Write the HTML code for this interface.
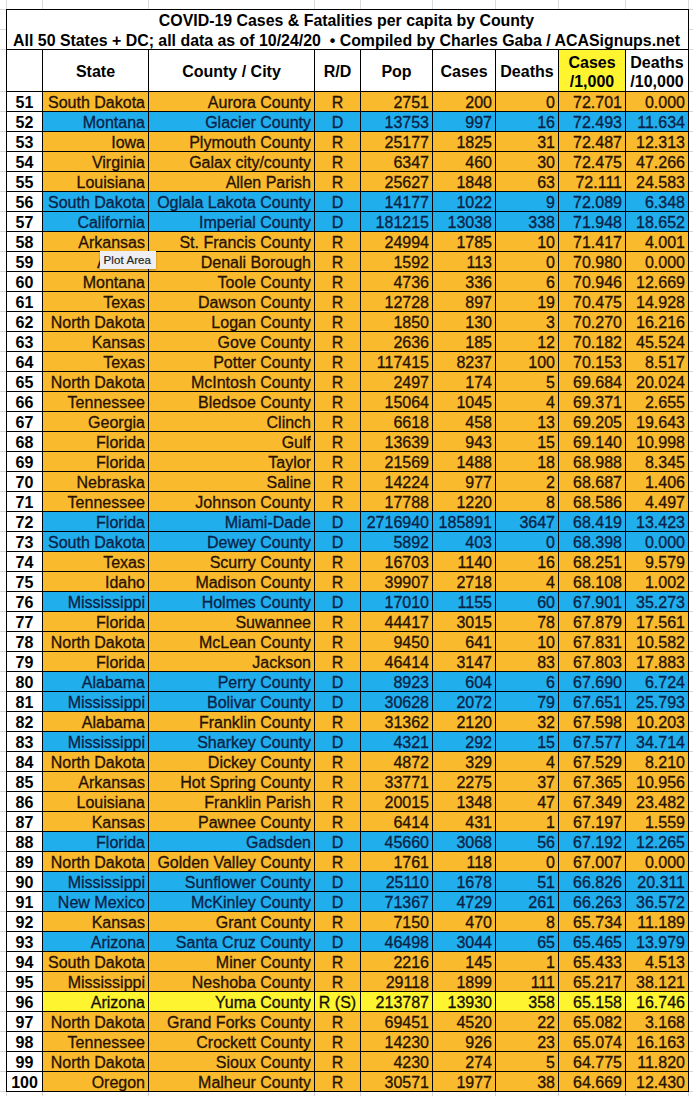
<!DOCTYPE html>
<html><head><meta charset="utf-8"><style>
html,body{margin:0;padding:0;background:#fff;width:693px;height:1096px;overflow:hidden}
body{position:relative;font-family:"Liberation Sans",sans-serif;color:#000}
.a{position:absolute}
.h{position:absolute;height:1px;background:#000}
.v{position:absolute;width:1px;background:#000}
.g{position:absolute;background:#d9d9d9}
.c{position:absolute;height:19px;line-height:19px;font-size:16px;white-space:nowrap;overflow:hidden;-webkit-text-stroke:0.3px currentColor}
.r{text-align:right}
.m{text-align:center}
.n{font-weight:bold;text-align:center;-webkit-text-stroke:0}
.o{background:#FABA2D}.b{background:#20AEEC}.y{background:#FEF530}
.to{color:#261200}.tb{color:#0a2248}.ty{color:#141000}
.t{position:absolute;left:6px;width:681px;text-align:center;font-weight:bold;font-size:15.9px;white-space:pre;line-height:20px}
.hd{position:absolute;font-weight:bold;font-size:16px;text-align:center;line-height:19px}
</style></head><body>

<div class="g" style="left:6px;top:0;width:1px;height:9px"></div>
<div class="g" style="left:6px;top:1092px;width:1px;height:4px"></div>
<div class="g" style="left:42px;top:0;width:1px;height:9px"></div>
<div class="g" style="left:42px;top:1092px;width:1px;height:4px"></div>
<div class="g" style="left:148px;top:0;width:1px;height:9px"></div>
<div class="g" style="left:148px;top:1092px;width:1px;height:4px"></div>
<div class="g" style="left:314px;top:0;width:1px;height:9px"></div>
<div class="g" style="left:314px;top:1092px;width:1px;height:4px"></div>
<div class="g" style="left:360px;top:0;width:1px;height:9px"></div>
<div class="g" style="left:360px;top:1092px;width:1px;height:4px"></div>
<div class="g" style="left:432px;top:0;width:1px;height:9px"></div>
<div class="g" style="left:432px;top:1092px;width:1px;height:4px"></div>
<div class="g" style="left:495px;top:0;width:1px;height:9px"></div>
<div class="g" style="left:495px;top:1092px;width:1px;height:4px"></div>
<div class="g" style="left:558px;top:0;width:1px;height:9px"></div>
<div class="g" style="left:558px;top:1092px;width:1px;height:4px"></div>
<div class="g" style="left:625px;top:0;width:1px;height:9px"></div>
<div class="g" style="left:625px;top:1092px;width:1px;height:4px"></div>
<div class="g" style="left:688px;top:0;width:1px;height:9px"></div>
<div class="g" style="left:688px;top:1092px;width:1px;height:4px"></div>
<div class="g" style="left:0;top:9px;width:6px;height:1px"></div>
<div class="g" style="left:689px;top:9px;width:4px;height:1px"></div>
<div class="g" style="left:0;top:29px;width:6px;height:1px"></div>
<div class="g" style="left:689px;top:29px;width:4px;height:1px"></div>
<div class="g" style="left:0;top:49px;width:6px;height:1px"></div>
<div class="g" style="left:689px;top:49px;width:4px;height:1px"></div>
<div class="g" style="left:0;top:91px;width:6px;height:1px"></div>
<div class="g" style="left:689px;top:91px;width:4px;height:1px"></div>
<div class="g" style="left:0;top:111px;width:6px;height:1px"></div>
<div class="g" style="left:689px;top:111px;width:4px;height:1px"></div>
<div class="g" style="left:0;top:131px;width:6px;height:1px"></div>
<div class="g" style="left:689px;top:131px;width:4px;height:1px"></div>
<div class="g" style="left:0;top:151px;width:6px;height:1px"></div>
<div class="g" style="left:689px;top:151px;width:4px;height:1px"></div>
<div class="g" style="left:0;top:171px;width:6px;height:1px"></div>
<div class="g" style="left:689px;top:171px;width:4px;height:1px"></div>
<div class="g" style="left:0;top:191px;width:6px;height:1px"></div>
<div class="g" style="left:689px;top:191px;width:4px;height:1px"></div>
<div class="g" style="left:0;top:211px;width:6px;height:1px"></div>
<div class="g" style="left:689px;top:211px;width:4px;height:1px"></div>
<div class="g" style="left:0;top:231px;width:6px;height:1px"></div>
<div class="g" style="left:689px;top:231px;width:4px;height:1px"></div>
<div class="g" style="left:0;top:251px;width:6px;height:1px"></div>
<div class="g" style="left:689px;top:251px;width:4px;height:1px"></div>
<div class="g" style="left:0;top:271px;width:6px;height:1px"></div>
<div class="g" style="left:689px;top:271px;width:4px;height:1px"></div>
<div class="g" style="left:0;top:291px;width:6px;height:1px"></div>
<div class="g" style="left:689px;top:291px;width:4px;height:1px"></div>
<div class="g" style="left:0;top:311px;width:6px;height:1px"></div>
<div class="g" style="left:689px;top:311px;width:4px;height:1px"></div>
<div class="g" style="left:0;top:331px;width:6px;height:1px"></div>
<div class="g" style="left:689px;top:331px;width:4px;height:1px"></div>
<div class="g" style="left:0;top:351px;width:6px;height:1px"></div>
<div class="g" style="left:689px;top:351px;width:4px;height:1px"></div>
<div class="g" style="left:0;top:371px;width:6px;height:1px"></div>
<div class="g" style="left:689px;top:371px;width:4px;height:1px"></div>
<div class="g" style="left:0;top:391px;width:6px;height:1px"></div>
<div class="g" style="left:689px;top:391px;width:4px;height:1px"></div>
<div class="g" style="left:0;top:411px;width:6px;height:1px"></div>
<div class="g" style="left:689px;top:411px;width:4px;height:1px"></div>
<div class="g" style="left:0;top:431px;width:6px;height:1px"></div>
<div class="g" style="left:689px;top:431px;width:4px;height:1px"></div>
<div class="g" style="left:0;top:451px;width:6px;height:1px"></div>
<div class="g" style="left:689px;top:451px;width:4px;height:1px"></div>
<div class="g" style="left:0;top:471px;width:6px;height:1px"></div>
<div class="g" style="left:689px;top:471px;width:4px;height:1px"></div>
<div class="g" style="left:0;top:491px;width:6px;height:1px"></div>
<div class="g" style="left:689px;top:491px;width:4px;height:1px"></div>
<div class="g" style="left:0;top:511px;width:6px;height:1px"></div>
<div class="g" style="left:689px;top:511px;width:4px;height:1px"></div>
<div class="g" style="left:0;top:531px;width:6px;height:1px"></div>
<div class="g" style="left:689px;top:531px;width:4px;height:1px"></div>
<div class="g" style="left:0;top:551px;width:6px;height:1px"></div>
<div class="g" style="left:689px;top:551px;width:4px;height:1px"></div>
<div class="g" style="left:0;top:571px;width:6px;height:1px"></div>
<div class="g" style="left:689px;top:571px;width:4px;height:1px"></div>
<div class="g" style="left:0;top:591px;width:6px;height:1px"></div>
<div class="g" style="left:689px;top:591px;width:4px;height:1px"></div>
<div class="g" style="left:0;top:611px;width:6px;height:1px"></div>
<div class="g" style="left:689px;top:611px;width:4px;height:1px"></div>
<div class="g" style="left:0;top:631px;width:6px;height:1px"></div>
<div class="g" style="left:689px;top:631px;width:4px;height:1px"></div>
<div class="g" style="left:0;top:651px;width:6px;height:1px"></div>
<div class="g" style="left:689px;top:651px;width:4px;height:1px"></div>
<div class="g" style="left:0;top:671px;width:6px;height:1px"></div>
<div class="g" style="left:689px;top:671px;width:4px;height:1px"></div>
<div class="g" style="left:0;top:691px;width:6px;height:1px"></div>
<div class="g" style="left:689px;top:691px;width:4px;height:1px"></div>
<div class="g" style="left:0;top:711px;width:6px;height:1px"></div>
<div class="g" style="left:689px;top:711px;width:4px;height:1px"></div>
<div class="g" style="left:0;top:731px;width:6px;height:1px"></div>
<div class="g" style="left:689px;top:731px;width:4px;height:1px"></div>
<div class="g" style="left:0;top:751px;width:6px;height:1px"></div>
<div class="g" style="left:689px;top:751px;width:4px;height:1px"></div>
<div class="g" style="left:0;top:771px;width:6px;height:1px"></div>
<div class="g" style="left:689px;top:771px;width:4px;height:1px"></div>
<div class="g" style="left:0;top:791px;width:6px;height:1px"></div>
<div class="g" style="left:689px;top:791px;width:4px;height:1px"></div>
<div class="g" style="left:0;top:811px;width:6px;height:1px"></div>
<div class="g" style="left:689px;top:811px;width:4px;height:1px"></div>
<div class="g" style="left:0;top:831px;width:6px;height:1px"></div>
<div class="g" style="left:689px;top:831px;width:4px;height:1px"></div>
<div class="g" style="left:0;top:851px;width:6px;height:1px"></div>
<div class="g" style="left:689px;top:851px;width:4px;height:1px"></div>
<div class="g" style="left:0;top:871px;width:6px;height:1px"></div>
<div class="g" style="left:689px;top:871px;width:4px;height:1px"></div>
<div class="g" style="left:0;top:891px;width:6px;height:1px"></div>
<div class="g" style="left:689px;top:891px;width:4px;height:1px"></div>
<div class="g" style="left:0;top:911px;width:6px;height:1px"></div>
<div class="g" style="left:689px;top:911px;width:4px;height:1px"></div>
<div class="g" style="left:0;top:931px;width:6px;height:1px"></div>
<div class="g" style="left:689px;top:931px;width:4px;height:1px"></div>
<div class="g" style="left:0;top:951px;width:6px;height:1px"></div>
<div class="g" style="left:689px;top:951px;width:4px;height:1px"></div>
<div class="g" style="left:0;top:971px;width:6px;height:1px"></div>
<div class="g" style="left:689px;top:971px;width:4px;height:1px"></div>
<div class="g" style="left:0;top:991px;width:6px;height:1px"></div>
<div class="g" style="left:689px;top:991px;width:4px;height:1px"></div>
<div class="g" style="left:0;top:1011px;width:6px;height:1px"></div>
<div class="g" style="left:689px;top:1011px;width:4px;height:1px"></div>
<div class="g" style="left:0;top:1031px;width:6px;height:1px"></div>
<div class="g" style="left:689px;top:1031px;width:4px;height:1px"></div>
<div class="g" style="left:0;top:1051px;width:6px;height:1px"></div>
<div class="g" style="left:689px;top:1051px;width:4px;height:1px"></div>
<div class="g" style="left:0;top:1071px;width:6px;height:1px"></div>
<div class="g" style="left:689px;top:1071px;width:4px;height:1px"></div>
<div class="g" style="left:0;top:1091px;width:6px;height:1px"></div>
<div class="g" style="left:689px;top:1091px;width:4px;height:1px"></div>
<div class="t" style="top:11px">COVID-19 Cases &amp; Fatalities per capita by County</div>
<div class="t" style="top:31px">All 50 States + DC; all data as of 10/24/20&nbsp; • Compiled by Charles Gaba / ACASignups.net</div>
<div class="a" style="left:559px;top:50px;width:66px;height:41px;background:#FEF530"></div>
<div class="hd" style="left:43px;top:62px;width:105px">State</div>
<div class="hd" style="left:149px;top:62px;width:165px">County / City</div>
<div class="hd" style="left:315px;top:62px;width:45px">R/D</div>
<div class="hd" style="left:361px;top:62px;width:71px">Pop</div>
<div class="hd" style="left:433px;top:62px;width:62px">Cases</div>
<div class="hd" style="left:496px;top:62px;width:62px">Deaths</div>
<div class="hd" style="left:559px;top:53px;width:66px">Cases<br>/1,000</div>
<div class="hd" style="left:626px;top:53px;width:62px">Deaths<br>/10,000</div>
<div class="a o" style="left:43px;top:92px;width:645px;height:19px"></div>
<div class="c n" style="left:7px;top:93px;width:35px">51</div>
<div class="c r to" style="left:43px;top:93px;width:102px">South Dakota</div>
<div class="c r to" style="left:149px;top:93px;width:162px">Aurora County</div>
<div class="c m to" style="left:315px;top:93px;width:45px">R</div>
<div class="c r to" style="left:361px;top:93px;width:68px">2751</div>
<div class="c r to" style="left:433px;top:93px;width:59px">200</div>
<div class="c r to" style="left:496px;top:93px;width:59px">0</div>
<div class="c r to" style="left:559px;top:93px;width:63px">72.701</div>
<div class="c r to" style="left:626px;top:93px;width:59px">0.000</div>
<div class="a b" style="left:43px;top:112px;width:645px;height:19px"></div>
<div class="c n" style="left:7px;top:113px;width:35px">52</div>
<div class="c r tb" style="left:43px;top:113px;width:102px">Montana</div>
<div class="c r tb" style="left:149px;top:113px;width:162px">Glacier County</div>
<div class="c m tb" style="left:315px;top:113px;width:45px">D</div>
<div class="c r tb" style="left:361px;top:113px;width:68px">13753</div>
<div class="c r tb" style="left:433px;top:113px;width:59px">997</div>
<div class="c r tb" style="left:496px;top:113px;width:59px">16</div>
<div class="c r tb" style="left:559px;top:113px;width:63px">72.493</div>
<div class="c r tb" style="left:626px;top:113px;width:59px">11.634</div>
<div class="a o" style="left:43px;top:132px;width:645px;height:19px"></div>
<div class="c n" style="left:7px;top:133px;width:35px">53</div>
<div class="c r to" style="left:43px;top:133px;width:102px">Iowa</div>
<div class="c r to" style="left:149px;top:133px;width:162px">Plymouth County</div>
<div class="c m to" style="left:315px;top:133px;width:45px">R</div>
<div class="c r to" style="left:361px;top:133px;width:68px">25177</div>
<div class="c r to" style="left:433px;top:133px;width:59px">1825</div>
<div class="c r to" style="left:496px;top:133px;width:59px">31</div>
<div class="c r to" style="left:559px;top:133px;width:63px">72.487</div>
<div class="c r to" style="left:626px;top:133px;width:59px">12.313</div>
<div class="a o" style="left:43px;top:152px;width:645px;height:19px"></div>
<div class="c n" style="left:7px;top:153px;width:35px">54</div>
<div class="c r to" style="left:43px;top:153px;width:102px">Virginia</div>
<div class="c r to" style="left:149px;top:153px;width:162px">Galax city/county</div>
<div class="c m to" style="left:315px;top:153px;width:45px">R</div>
<div class="c r to" style="left:361px;top:153px;width:68px">6347</div>
<div class="c r to" style="left:433px;top:153px;width:59px">460</div>
<div class="c r to" style="left:496px;top:153px;width:59px">30</div>
<div class="c r to" style="left:559px;top:153px;width:63px">72.475</div>
<div class="c r to" style="left:626px;top:153px;width:59px">47.266</div>
<div class="a o" style="left:43px;top:172px;width:645px;height:19px"></div>
<div class="c n" style="left:7px;top:173px;width:35px">55</div>
<div class="c r to" style="left:43px;top:173px;width:102px">Louisiana</div>
<div class="c r to" style="left:149px;top:173px;width:162px">Allen Parish</div>
<div class="c m to" style="left:315px;top:173px;width:45px">R</div>
<div class="c r to" style="left:361px;top:173px;width:68px">25627</div>
<div class="c r to" style="left:433px;top:173px;width:59px">1848</div>
<div class="c r to" style="left:496px;top:173px;width:59px">63</div>
<div class="c r to" style="left:559px;top:173px;width:63px">72.111</div>
<div class="c r to" style="left:626px;top:173px;width:59px">24.583</div>
<div class="a b" style="left:43px;top:192px;width:645px;height:19px"></div>
<div class="c n" style="left:7px;top:193px;width:35px">56</div>
<div class="c r tb" style="left:43px;top:193px;width:102px">South Dakota</div>
<div class="c r tb" style="left:149px;top:193px;width:162px">Oglala Lakota County</div>
<div class="c m tb" style="left:315px;top:193px;width:45px">D</div>
<div class="c r tb" style="left:361px;top:193px;width:68px">14177</div>
<div class="c r tb" style="left:433px;top:193px;width:59px">1022</div>
<div class="c r tb" style="left:496px;top:193px;width:59px">9</div>
<div class="c r tb" style="left:559px;top:193px;width:63px">72.089</div>
<div class="c r tb" style="left:626px;top:193px;width:59px">6.348</div>
<div class="a b" style="left:43px;top:212px;width:645px;height:19px"></div>
<div class="c n" style="left:7px;top:213px;width:35px">57</div>
<div class="c r tb" style="left:43px;top:213px;width:102px">California</div>
<div class="c r tb" style="left:149px;top:213px;width:162px">Imperial County</div>
<div class="c m tb" style="left:315px;top:213px;width:45px">D</div>
<div class="c r tb" style="left:361px;top:213px;width:68px">181215</div>
<div class="c r tb" style="left:433px;top:213px;width:59px">13038</div>
<div class="c r tb" style="left:496px;top:213px;width:59px">338</div>
<div class="c r tb" style="left:559px;top:213px;width:63px">71.948</div>
<div class="c r tb" style="left:626px;top:213px;width:59px">18.652</div>
<div class="a o" style="left:43px;top:232px;width:645px;height:19px"></div>
<div class="c n" style="left:7px;top:233px;width:35px">58</div>
<div class="c r to" style="left:43px;top:233px;width:102px">Arkansas</div>
<div class="c r to" style="left:149px;top:233px;width:162px">St. Francis County</div>
<div class="c m to" style="left:315px;top:233px;width:45px">R</div>
<div class="c r to" style="left:361px;top:233px;width:68px">24994</div>
<div class="c r to" style="left:433px;top:233px;width:59px">1785</div>
<div class="c r to" style="left:496px;top:233px;width:59px">10</div>
<div class="c r to" style="left:559px;top:233px;width:63px">71.417</div>
<div class="c r to" style="left:626px;top:233px;width:59px">4.001</div>
<div class="a o" style="left:43px;top:252px;width:645px;height:19px"></div>
<div class="c n" style="left:7px;top:253px;width:35px">59</div>
<div class="c r to" style="left:43px;top:253px;width:102px">Alaska</div>
<div class="c r to" style="left:149px;top:253px;width:162px">Denali Borough</div>
<div class="c m to" style="left:315px;top:253px;width:45px">R</div>
<div class="c r to" style="left:361px;top:253px;width:68px">1592</div>
<div class="c r to" style="left:433px;top:253px;width:59px">113</div>
<div class="c r to" style="left:496px;top:253px;width:59px">0</div>
<div class="c r to" style="left:559px;top:253px;width:63px">70.980</div>
<div class="c r to" style="left:626px;top:253px;width:59px">0.000</div>
<div class="a o" style="left:43px;top:272px;width:645px;height:19px"></div>
<div class="c n" style="left:7px;top:273px;width:35px">60</div>
<div class="c r to" style="left:43px;top:273px;width:102px">Montana</div>
<div class="c r to" style="left:149px;top:273px;width:162px">Toole County</div>
<div class="c m to" style="left:315px;top:273px;width:45px">R</div>
<div class="c r to" style="left:361px;top:273px;width:68px">4736</div>
<div class="c r to" style="left:433px;top:273px;width:59px">336</div>
<div class="c r to" style="left:496px;top:273px;width:59px">6</div>
<div class="c r to" style="left:559px;top:273px;width:63px">70.946</div>
<div class="c r to" style="left:626px;top:273px;width:59px">12.669</div>
<div class="a o" style="left:43px;top:292px;width:645px;height:19px"></div>
<div class="c n" style="left:7px;top:293px;width:35px">61</div>
<div class="c r to" style="left:43px;top:293px;width:102px">Texas</div>
<div class="c r to" style="left:149px;top:293px;width:162px">Dawson County</div>
<div class="c m to" style="left:315px;top:293px;width:45px">R</div>
<div class="c r to" style="left:361px;top:293px;width:68px">12728</div>
<div class="c r to" style="left:433px;top:293px;width:59px">897</div>
<div class="c r to" style="left:496px;top:293px;width:59px">19</div>
<div class="c r to" style="left:559px;top:293px;width:63px">70.475</div>
<div class="c r to" style="left:626px;top:293px;width:59px">14.928</div>
<div class="a o" style="left:43px;top:312px;width:645px;height:19px"></div>
<div class="c n" style="left:7px;top:313px;width:35px">62</div>
<div class="c r to" style="left:43px;top:313px;width:102px">North Dakota</div>
<div class="c r to" style="left:149px;top:313px;width:162px">Logan County</div>
<div class="c m to" style="left:315px;top:313px;width:45px">R</div>
<div class="c r to" style="left:361px;top:313px;width:68px">1850</div>
<div class="c r to" style="left:433px;top:313px;width:59px">130</div>
<div class="c r to" style="left:496px;top:313px;width:59px">3</div>
<div class="c r to" style="left:559px;top:313px;width:63px">70.270</div>
<div class="c r to" style="left:626px;top:313px;width:59px">16.216</div>
<div class="a o" style="left:43px;top:332px;width:645px;height:19px"></div>
<div class="c n" style="left:7px;top:333px;width:35px">63</div>
<div class="c r to" style="left:43px;top:333px;width:102px">Kansas</div>
<div class="c r to" style="left:149px;top:333px;width:162px">Gove County</div>
<div class="c m to" style="left:315px;top:333px;width:45px">R</div>
<div class="c r to" style="left:361px;top:333px;width:68px">2636</div>
<div class="c r to" style="left:433px;top:333px;width:59px">185</div>
<div class="c r to" style="left:496px;top:333px;width:59px">12</div>
<div class="c r to" style="left:559px;top:333px;width:63px">70.182</div>
<div class="c r to" style="left:626px;top:333px;width:59px">45.524</div>
<div class="a o" style="left:43px;top:352px;width:645px;height:19px"></div>
<div class="c n" style="left:7px;top:353px;width:35px">64</div>
<div class="c r to" style="left:43px;top:353px;width:102px">Texas</div>
<div class="c r to" style="left:149px;top:353px;width:162px">Potter County</div>
<div class="c m to" style="left:315px;top:353px;width:45px">R</div>
<div class="c r to" style="left:361px;top:353px;width:68px">117415</div>
<div class="c r to" style="left:433px;top:353px;width:59px">8237</div>
<div class="c r to" style="left:496px;top:353px;width:59px">100</div>
<div class="c r to" style="left:559px;top:353px;width:63px">70.153</div>
<div class="c r to" style="left:626px;top:353px;width:59px">8.517</div>
<div class="a o" style="left:43px;top:372px;width:645px;height:19px"></div>
<div class="c n" style="left:7px;top:373px;width:35px">65</div>
<div class="c r to" style="left:43px;top:373px;width:102px">North Dakota</div>
<div class="c r to" style="left:149px;top:373px;width:162px">McIntosh County</div>
<div class="c m to" style="left:315px;top:373px;width:45px">R</div>
<div class="c r to" style="left:361px;top:373px;width:68px">2497</div>
<div class="c r to" style="left:433px;top:373px;width:59px">174</div>
<div class="c r to" style="left:496px;top:373px;width:59px">5</div>
<div class="c r to" style="left:559px;top:373px;width:63px">69.684</div>
<div class="c r to" style="left:626px;top:373px;width:59px">20.024</div>
<div class="a o" style="left:43px;top:392px;width:645px;height:19px"></div>
<div class="c n" style="left:7px;top:393px;width:35px">66</div>
<div class="c r to" style="left:43px;top:393px;width:102px">Tennessee</div>
<div class="c r to" style="left:149px;top:393px;width:162px">Bledsoe County</div>
<div class="c m to" style="left:315px;top:393px;width:45px">R</div>
<div class="c r to" style="left:361px;top:393px;width:68px">15064</div>
<div class="c r to" style="left:433px;top:393px;width:59px">1045</div>
<div class="c r to" style="left:496px;top:393px;width:59px">4</div>
<div class="c r to" style="left:559px;top:393px;width:63px">69.371</div>
<div class="c r to" style="left:626px;top:393px;width:59px">2.655</div>
<div class="a o" style="left:43px;top:412px;width:645px;height:19px"></div>
<div class="c n" style="left:7px;top:413px;width:35px">67</div>
<div class="c r to" style="left:43px;top:413px;width:102px">Georgia</div>
<div class="c r to" style="left:149px;top:413px;width:162px">Clinch</div>
<div class="c m to" style="left:315px;top:413px;width:45px">R</div>
<div class="c r to" style="left:361px;top:413px;width:68px">6618</div>
<div class="c r to" style="left:433px;top:413px;width:59px">458</div>
<div class="c r to" style="left:496px;top:413px;width:59px">13</div>
<div class="c r to" style="left:559px;top:413px;width:63px">69.205</div>
<div class="c r to" style="left:626px;top:413px;width:59px">19.643</div>
<div class="a o" style="left:43px;top:432px;width:645px;height:19px"></div>
<div class="c n" style="left:7px;top:433px;width:35px">68</div>
<div class="c r to" style="left:43px;top:433px;width:102px">Florida</div>
<div class="c r to" style="left:149px;top:433px;width:162px">Gulf</div>
<div class="c m to" style="left:315px;top:433px;width:45px">R</div>
<div class="c r to" style="left:361px;top:433px;width:68px">13639</div>
<div class="c r to" style="left:433px;top:433px;width:59px">943</div>
<div class="c r to" style="left:496px;top:433px;width:59px">15</div>
<div class="c r to" style="left:559px;top:433px;width:63px">69.140</div>
<div class="c r to" style="left:626px;top:433px;width:59px">10.998</div>
<div class="a o" style="left:43px;top:452px;width:645px;height:19px"></div>
<div class="c n" style="left:7px;top:453px;width:35px">69</div>
<div class="c r to" style="left:43px;top:453px;width:102px">Florida</div>
<div class="c r to" style="left:149px;top:453px;width:162px">Taylor</div>
<div class="c m to" style="left:315px;top:453px;width:45px">R</div>
<div class="c r to" style="left:361px;top:453px;width:68px">21569</div>
<div class="c r to" style="left:433px;top:453px;width:59px">1488</div>
<div class="c r to" style="left:496px;top:453px;width:59px">18</div>
<div class="c r to" style="left:559px;top:453px;width:63px">68.988</div>
<div class="c r to" style="left:626px;top:453px;width:59px">8.345</div>
<div class="a o" style="left:43px;top:472px;width:645px;height:19px"></div>
<div class="c n" style="left:7px;top:473px;width:35px">70</div>
<div class="c r to" style="left:43px;top:473px;width:102px">Nebraska</div>
<div class="c r to" style="left:149px;top:473px;width:162px">Saline</div>
<div class="c m to" style="left:315px;top:473px;width:45px">R</div>
<div class="c r to" style="left:361px;top:473px;width:68px">14224</div>
<div class="c r to" style="left:433px;top:473px;width:59px">977</div>
<div class="c r to" style="left:496px;top:473px;width:59px">2</div>
<div class="c r to" style="left:559px;top:473px;width:63px">68.687</div>
<div class="c r to" style="left:626px;top:473px;width:59px">1.406</div>
<div class="a o" style="left:43px;top:492px;width:645px;height:19px"></div>
<div class="c n" style="left:7px;top:493px;width:35px">71</div>
<div class="c r to" style="left:43px;top:493px;width:102px">Tennessee</div>
<div class="c r to" style="left:149px;top:493px;width:162px">Johnson County</div>
<div class="c m to" style="left:315px;top:493px;width:45px">R</div>
<div class="c r to" style="left:361px;top:493px;width:68px">17788</div>
<div class="c r to" style="left:433px;top:493px;width:59px">1220</div>
<div class="c r to" style="left:496px;top:493px;width:59px">8</div>
<div class="c r to" style="left:559px;top:493px;width:63px">68.586</div>
<div class="c r to" style="left:626px;top:493px;width:59px">4.497</div>
<div class="a b" style="left:43px;top:512px;width:645px;height:19px"></div>
<div class="c n" style="left:7px;top:513px;width:35px">72</div>
<div class="c r tb" style="left:43px;top:513px;width:102px">Florida</div>
<div class="c r tb" style="left:149px;top:513px;width:162px">Miami-Dade</div>
<div class="c m tb" style="left:315px;top:513px;width:45px">D</div>
<div class="c r tb" style="left:361px;top:513px;width:68px">2716940</div>
<div class="c r tb" style="left:433px;top:513px;width:59px">185891</div>
<div class="c r tb" style="left:496px;top:513px;width:59px">3647</div>
<div class="c r tb" style="left:559px;top:513px;width:63px">68.419</div>
<div class="c r tb" style="left:626px;top:513px;width:59px">13.423</div>
<div class="a b" style="left:43px;top:532px;width:645px;height:19px"></div>
<div class="c n" style="left:7px;top:533px;width:35px">73</div>
<div class="c r tb" style="left:43px;top:533px;width:102px">South Dakota</div>
<div class="c r tb" style="left:149px;top:533px;width:162px">Dewey County</div>
<div class="c m tb" style="left:315px;top:533px;width:45px">D</div>
<div class="c r tb" style="left:361px;top:533px;width:68px">5892</div>
<div class="c r tb" style="left:433px;top:533px;width:59px">403</div>
<div class="c r tb" style="left:496px;top:533px;width:59px">0</div>
<div class="c r tb" style="left:559px;top:533px;width:63px">68.398</div>
<div class="c r tb" style="left:626px;top:533px;width:59px">0.000</div>
<div class="a o" style="left:43px;top:552px;width:645px;height:19px"></div>
<div class="c n" style="left:7px;top:553px;width:35px">74</div>
<div class="c r to" style="left:43px;top:553px;width:102px">Texas</div>
<div class="c r to" style="left:149px;top:553px;width:162px">Scurry County</div>
<div class="c m to" style="left:315px;top:553px;width:45px">R</div>
<div class="c r to" style="left:361px;top:553px;width:68px">16703</div>
<div class="c r to" style="left:433px;top:553px;width:59px">1140</div>
<div class="c r to" style="left:496px;top:553px;width:59px">16</div>
<div class="c r to" style="left:559px;top:553px;width:63px">68.251</div>
<div class="c r to" style="left:626px;top:553px;width:59px">9.579</div>
<div class="a o" style="left:43px;top:572px;width:645px;height:19px"></div>
<div class="c n" style="left:7px;top:573px;width:35px">75</div>
<div class="c r to" style="left:43px;top:573px;width:102px">Idaho</div>
<div class="c r to" style="left:149px;top:573px;width:162px">Madison County</div>
<div class="c m to" style="left:315px;top:573px;width:45px">R</div>
<div class="c r to" style="left:361px;top:573px;width:68px">39907</div>
<div class="c r to" style="left:433px;top:573px;width:59px">2718</div>
<div class="c r to" style="left:496px;top:573px;width:59px">4</div>
<div class="c r to" style="left:559px;top:573px;width:63px">68.108</div>
<div class="c r to" style="left:626px;top:573px;width:59px">1.002</div>
<div class="a b" style="left:43px;top:592px;width:645px;height:19px"></div>
<div class="c n" style="left:7px;top:593px;width:35px">76</div>
<div class="c r tb" style="left:43px;top:593px;width:102px">Mississippi</div>
<div class="c r tb" style="left:149px;top:593px;width:162px">Holmes County</div>
<div class="c m tb" style="left:315px;top:593px;width:45px">D</div>
<div class="c r tb" style="left:361px;top:593px;width:68px">17010</div>
<div class="c r tb" style="left:433px;top:593px;width:59px">1155</div>
<div class="c r tb" style="left:496px;top:593px;width:59px">60</div>
<div class="c r tb" style="left:559px;top:593px;width:63px">67.901</div>
<div class="c r tb" style="left:626px;top:593px;width:59px">35.273</div>
<div class="a o" style="left:43px;top:612px;width:645px;height:19px"></div>
<div class="c n" style="left:7px;top:613px;width:35px">77</div>
<div class="c r to" style="left:43px;top:613px;width:102px">Florida</div>
<div class="c r to" style="left:149px;top:613px;width:162px">Suwannee</div>
<div class="c m to" style="left:315px;top:613px;width:45px">R</div>
<div class="c r to" style="left:361px;top:613px;width:68px">44417</div>
<div class="c r to" style="left:433px;top:613px;width:59px">3015</div>
<div class="c r to" style="left:496px;top:613px;width:59px">78</div>
<div class="c r to" style="left:559px;top:613px;width:63px">67.879</div>
<div class="c r to" style="left:626px;top:613px;width:59px">17.561</div>
<div class="a o" style="left:43px;top:632px;width:645px;height:19px"></div>
<div class="c n" style="left:7px;top:633px;width:35px">78</div>
<div class="c r to" style="left:43px;top:633px;width:102px">North Dakota</div>
<div class="c r to" style="left:149px;top:633px;width:162px">McLean County</div>
<div class="c m to" style="left:315px;top:633px;width:45px">R</div>
<div class="c r to" style="left:361px;top:633px;width:68px">9450</div>
<div class="c r to" style="left:433px;top:633px;width:59px">641</div>
<div class="c r to" style="left:496px;top:633px;width:59px">10</div>
<div class="c r to" style="left:559px;top:633px;width:63px">67.831</div>
<div class="c r to" style="left:626px;top:633px;width:59px">10.582</div>
<div class="a o" style="left:43px;top:652px;width:645px;height:19px"></div>
<div class="c n" style="left:7px;top:653px;width:35px">79</div>
<div class="c r to" style="left:43px;top:653px;width:102px">Florida</div>
<div class="c r to" style="left:149px;top:653px;width:162px">Jackson</div>
<div class="c m to" style="left:315px;top:653px;width:45px">R</div>
<div class="c r to" style="left:361px;top:653px;width:68px">46414</div>
<div class="c r to" style="left:433px;top:653px;width:59px">3147</div>
<div class="c r to" style="left:496px;top:653px;width:59px">83</div>
<div class="c r to" style="left:559px;top:653px;width:63px">67.803</div>
<div class="c r to" style="left:626px;top:653px;width:59px">17.883</div>
<div class="a b" style="left:43px;top:672px;width:645px;height:19px"></div>
<div class="c n" style="left:7px;top:673px;width:35px">80</div>
<div class="c r tb" style="left:43px;top:673px;width:102px">Alabama</div>
<div class="c r tb" style="left:149px;top:673px;width:162px">Perry County</div>
<div class="c m tb" style="left:315px;top:673px;width:45px">D</div>
<div class="c r tb" style="left:361px;top:673px;width:68px">8923</div>
<div class="c r tb" style="left:433px;top:673px;width:59px">604</div>
<div class="c r tb" style="left:496px;top:673px;width:59px">6</div>
<div class="c r tb" style="left:559px;top:673px;width:63px">67.690</div>
<div class="c r tb" style="left:626px;top:673px;width:59px">6.724</div>
<div class="a b" style="left:43px;top:692px;width:645px;height:19px"></div>
<div class="c n" style="left:7px;top:693px;width:35px">81</div>
<div class="c r tb" style="left:43px;top:693px;width:102px">Mississippi</div>
<div class="c r tb" style="left:149px;top:693px;width:162px">Bolivar County</div>
<div class="c m tb" style="left:315px;top:693px;width:45px">D</div>
<div class="c r tb" style="left:361px;top:693px;width:68px">30628</div>
<div class="c r tb" style="left:433px;top:693px;width:59px">2072</div>
<div class="c r tb" style="left:496px;top:693px;width:59px">79</div>
<div class="c r tb" style="left:559px;top:693px;width:63px">67.651</div>
<div class="c r tb" style="left:626px;top:693px;width:59px">25.793</div>
<div class="a o" style="left:43px;top:712px;width:645px;height:19px"></div>
<div class="c n" style="left:7px;top:713px;width:35px">82</div>
<div class="c r to" style="left:43px;top:713px;width:102px">Alabama</div>
<div class="c r to" style="left:149px;top:713px;width:162px">Franklin County</div>
<div class="c m to" style="left:315px;top:713px;width:45px">R</div>
<div class="c r to" style="left:361px;top:713px;width:68px">31362</div>
<div class="c r to" style="left:433px;top:713px;width:59px">2120</div>
<div class="c r to" style="left:496px;top:713px;width:59px">32</div>
<div class="c r to" style="left:559px;top:713px;width:63px">67.598</div>
<div class="c r to" style="left:626px;top:713px;width:59px">10.203</div>
<div class="a b" style="left:43px;top:732px;width:645px;height:19px"></div>
<div class="c n" style="left:7px;top:733px;width:35px">83</div>
<div class="c r tb" style="left:43px;top:733px;width:102px">Mississippi</div>
<div class="c r tb" style="left:149px;top:733px;width:162px">Sharkey County</div>
<div class="c m tb" style="left:315px;top:733px;width:45px">D</div>
<div class="c r tb" style="left:361px;top:733px;width:68px">4321</div>
<div class="c r tb" style="left:433px;top:733px;width:59px">292</div>
<div class="c r tb" style="left:496px;top:733px;width:59px">15</div>
<div class="c r tb" style="left:559px;top:733px;width:63px">67.577</div>
<div class="c r tb" style="left:626px;top:733px;width:59px">34.714</div>
<div class="a o" style="left:43px;top:752px;width:645px;height:19px"></div>
<div class="c n" style="left:7px;top:753px;width:35px">84</div>
<div class="c r to" style="left:43px;top:753px;width:102px">North Dakota</div>
<div class="c r to" style="left:149px;top:753px;width:162px">Dickey County</div>
<div class="c m to" style="left:315px;top:753px;width:45px">R</div>
<div class="c r to" style="left:361px;top:753px;width:68px">4872</div>
<div class="c r to" style="left:433px;top:753px;width:59px">329</div>
<div class="c r to" style="left:496px;top:753px;width:59px">4</div>
<div class="c r to" style="left:559px;top:753px;width:63px">67.529</div>
<div class="c r to" style="left:626px;top:753px;width:59px">8.210</div>
<div class="a o" style="left:43px;top:772px;width:645px;height:19px"></div>
<div class="c n" style="left:7px;top:773px;width:35px">85</div>
<div class="c r to" style="left:43px;top:773px;width:102px">Arkansas</div>
<div class="c r to" style="left:149px;top:773px;width:162px">Hot Spring County</div>
<div class="c m to" style="left:315px;top:773px;width:45px">R</div>
<div class="c r to" style="left:361px;top:773px;width:68px">33771</div>
<div class="c r to" style="left:433px;top:773px;width:59px">2275</div>
<div class="c r to" style="left:496px;top:773px;width:59px">37</div>
<div class="c r to" style="left:559px;top:773px;width:63px">67.365</div>
<div class="c r to" style="left:626px;top:773px;width:59px">10.956</div>
<div class="a o" style="left:43px;top:792px;width:645px;height:19px"></div>
<div class="c n" style="left:7px;top:793px;width:35px">86</div>
<div class="c r to" style="left:43px;top:793px;width:102px">Louisiana</div>
<div class="c r to" style="left:149px;top:793px;width:162px">Franklin Parish</div>
<div class="c m to" style="left:315px;top:793px;width:45px">R</div>
<div class="c r to" style="left:361px;top:793px;width:68px">20015</div>
<div class="c r to" style="left:433px;top:793px;width:59px">1348</div>
<div class="c r to" style="left:496px;top:793px;width:59px">47</div>
<div class="c r to" style="left:559px;top:793px;width:63px">67.349</div>
<div class="c r to" style="left:626px;top:793px;width:59px">23.482</div>
<div class="a o" style="left:43px;top:812px;width:645px;height:19px"></div>
<div class="c n" style="left:7px;top:813px;width:35px">87</div>
<div class="c r to" style="left:43px;top:813px;width:102px">Kansas</div>
<div class="c r to" style="left:149px;top:813px;width:162px">Pawnee County</div>
<div class="c m to" style="left:315px;top:813px;width:45px">R</div>
<div class="c r to" style="left:361px;top:813px;width:68px">6414</div>
<div class="c r to" style="left:433px;top:813px;width:59px">431</div>
<div class="c r to" style="left:496px;top:813px;width:59px">1</div>
<div class="c r to" style="left:559px;top:813px;width:63px">67.197</div>
<div class="c r to" style="left:626px;top:813px;width:59px">1.559</div>
<div class="a b" style="left:43px;top:832px;width:645px;height:19px"></div>
<div class="c n" style="left:7px;top:833px;width:35px">88</div>
<div class="c r tb" style="left:43px;top:833px;width:102px">Florida</div>
<div class="c r tb" style="left:149px;top:833px;width:162px">Gadsden</div>
<div class="c m tb" style="left:315px;top:833px;width:45px">D</div>
<div class="c r tb" style="left:361px;top:833px;width:68px">45660</div>
<div class="c r tb" style="left:433px;top:833px;width:59px">3068</div>
<div class="c r tb" style="left:496px;top:833px;width:59px">56</div>
<div class="c r tb" style="left:559px;top:833px;width:63px">67.192</div>
<div class="c r tb" style="left:626px;top:833px;width:59px">12.265</div>
<div class="a o" style="left:43px;top:852px;width:645px;height:19px"></div>
<div class="c n" style="left:7px;top:853px;width:35px">89</div>
<div class="c r to" style="left:43px;top:853px;width:102px">North Dakota</div>
<div class="c r to" style="left:149px;top:853px;width:162px">Golden Valley County</div>
<div class="c m to" style="left:315px;top:853px;width:45px">R</div>
<div class="c r to" style="left:361px;top:853px;width:68px">1761</div>
<div class="c r to" style="left:433px;top:853px;width:59px">118</div>
<div class="c r to" style="left:496px;top:853px;width:59px">0</div>
<div class="c r to" style="left:559px;top:853px;width:63px">67.007</div>
<div class="c r to" style="left:626px;top:853px;width:59px">0.000</div>
<div class="a b" style="left:43px;top:872px;width:645px;height:19px"></div>
<div class="c n" style="left:7px;top:873px;width:35px">90</div>
<div class="c r tb" style="left:43px;top:873px;width:102px">Mississippi</div>
<div class="c r tb" style="left:149px;top:873px;width:162px">Sunflower County</div>
<div class="c m tb" style="left:315px;top:873px;width:45px">D</div>
<div class="c r tb" style="left:361px;top:873px;width:68px">25110</div>
<div class="c r tb" style="left:433px;top:873px;width:59px">1678</div>
<div class="c r tb" style="left:496px;top:873px;width:59px">51</div>
<div class="c r tb" style="left:559px;top:873px;width:63px">66.826</div>
<div class="c r tb" style="left:626px;top:873px;width:59px">20.311</div>
<div class="a b" style="left:43px;top:892px;width:645px;height:19px"></div>
<div class="c n" style="left:7px;top:893px;width:35px">91</div>
<div class="c r tb" style="left:43px;top:893px;width:102px">New Mexico</div>
<div class="c r tb" style="left:149px;top:893px;width:162px">McKinley County</div>
<div class="c m tb" style="left:315px;top:893px;width:45px">D</div>
<div class="c r tb" style="left:361px;top:893px;width:68px">71367</div>
<div class="c r tb" style="left:433px;top:893px;width:59px">4729</div>
<div class="c r tb" style="left:496px;top:893px;width:59px">261</div>
<div class="c r tb" style="left:559px;top:893px;width:63px">66.263</div>
<div class="c r tb" style="left:626px;top:893px;width:59px">36.572</div>
<div class="a o" style="left:43px;top:912px;width:645px;height:19px"></div>
<div class="c n" style="left:7px;top:913px;width:35px">92</div>
<div class="c r to" style="left:43px;top:913px;width:102px">Kansas</div>
<div class="c r to" style="left:149px;top:913px;width:162px">Grant County</div>
<div class="c m to" style="left:315px;top:913px;width:45px">R</div>
<div class="c r to" style="left:361px;top:913px;width:68px">7150</div>
<div class="c r to" style="left:433px;top:913px;width:59px">470</div>
<div class="c r to" style="left:496px;top:913px;width:59px">8</div>
<div class="c r to" style="left:559px;top:913px;width:63px">65.734</div>
<div class="c r to" style="left:626px;top:913px;width:59px">11.189</div>
<div class="a b" style="left:43px;top:932px;width:645px;height:19px"></div>
<div class="c n" style="left:7px;top:933px;width:35px">93</div>
<div class="c r tb" style="left:43px;top:933px;width:102px">Arizona</div>
<div class="c r tb" style="left:149px;top:933px;width:162px">Santa Cruz County</div>
<div class="c m tb" style="left:315px;top:933px;width:45px">D</div>
<div class="c r tb" style="left:361px;top:933px;width:68px">46498</div>
<div class="c r tb" style="left:433px;top:933px;width:59px">3044</div>
<div class="c r tb" style="left:496px;top:933px;width:59px">65</div>
<div class="c r tb" style="left:559px;top:933px;width:63px">65.465</div>
<div class="c r tb" style="left:626px;top:933px;width:59px">13.979</div>
<div class="a o" style="left:43px;top:952px;width:645px;height:19px"></div>
<div class="c n" style="left:7px;top:953px;width:35px">94</div>
<div class="c r to" style="left:43px;top:953px;width:102px">South Dakota</div>
<div class="c r to" style="left:149px;top:953px;width:162px">Miner County</div>
<div class="c m to" style="left:315px;top:953px;width:45px">R</div>
<div class="c r to" style="left:361px;top:953px;width:68px">2216</div>
<div class="c r to" style="left:433px;top:953px;width:59px">145</div>
<div class="c r to" style="left:496px;top:953px;width:59px">1</div>
<div class="c r to" style="left:559px;top:953px;width:63px">65.433</div>
<div class="c r to" style="left:626px;top:953px;width:59px">4.513</div>
<div class="a o" style="left:43px;top:972px;width:645px;height:19px"></div>
<div class="c n" style="left:7px;top:973px;width:35px">95</div>
<div class="c r to" style="left:43px;top:973px;width:102px">Mississippi</div>
<div class="c r to" style="left:149px;top:973px;width:162px">Neshoba County</div>
<div class="c m to" style="left:315px;top:973px;width:45px">R</div>
<div class="c r to" style="left:361px;top:973px;width:68px">29118</div>
<div class="c r to" style="left:433px;top:973px;width:59px">1899</div>
<div class="c r to" style="left:496px;top:973px;width:59px">111</div>
<div class="c r to" style="left:559px;top:973px;width:63px">65.217</div>
<div class="c r to" style="left:626px;top:973px;width:59px">38.121</div>
<div class="a y" style="left:43px;top:992px;width:645px;height:19px"></div>
<div class="c n" style="left:7px;top:993px;width:35px">96</div>
<div class="c r ty" style="left:43px;top:993px;width:102px">Arizona</div>
<div class="c r ty" style="left:149px;top:993px;width:162px">Yuma County</div>
<div class="c m ty" style="left:315px;top:993px;width:45px">R (S)</div>
<div class="c r ty" style="left:361px;top:993px;width:68px">213787</div>
<div class="c r ty" style="left:433px;top:993px;width:59px">13930</div>
<div class="c r ty" style="left:496px;top:993px;width:59px">358</div>
<div class="c r ty" style="left:559px;top:993px;width:63px">65.158</div>
<div class="c r ty" style="left:626px;top:993px;width:59px">16.746</div>
<div class="a o" style="left:43px;top:1012px;width:645px;height:19px"></div>
<div class="c n" style="left:7px;top:1013px;width:35px">97</div>
<div class="c r to" style="left:43px;top:1013px;width:102px">North Dakota</div>
<div class="c r to" style="left:149px;top:1013px;width:162px">Grand Forks County</div>
<div class="c m to" style="left:315px;top:1013px;width:45px">R</div>
<div class="c r to" style="left:361px;top:1013px;width:68px">69451</div>
<div class="c r to" style="left:433px;top:1013px;width:59px">4520</div>
<div class="c r to" style="left:496px;top:1013px;width:59px">22</div>
<div class="c r to" style="left:559px;top:1013px;width:63px">65.082</div>
<div class="c r to" style="left:626px;top:1013px;width:59px">3.168</div>
<div class="a o" style="left:43px;top:1032px;width:645px;height:19px"></div>
<div class="c n" style="left:7px;top:1033px;width:35px">98</div>
<div class="c r to" style="left:43px;top:1033px;width:102px">Tennessee</div>
<div class="c r to" style="left:149px;top:1033px;width:162px">Crockett County</div>
<div class="c m to" style="left:315px;top:1033px;width:45px">R</div>
<div class="c r to" style="left:361px;top:1033px;width:68px">14230</div>
<div class="c r to" style="left:433px;top:1033px;width:59px">926</div>
<div class="c r to" style="left:496px;top:1033px;width:59px">23</div>
<div class="c r to" style="left:559px;top:1033px;width:63px">65.074</div>
<div class="c r to" style="left:626px;top:1033px;width:59px">16.163</div>
<div class="a o" style="left:43px;top:1052px;width:645px;height:19px"></div>
<div class="c n" style="left:7px;top:1053px;width:35px">99</div>
<div class="c r to" style="left:43px;top:1053px;width:102px">North Dakota</div>
<div class="c r to" style="left:149px;top:1053px;width:162px">Sioux County</div>
<div class="c m to" style="left:315px;top:1053px;width:45px">R</div>
<div class="c r to" style="left:361px;top:1053px;width:68px">4230</div>
<div class="c r to" style="left:433px;top:1053px;width:59px">274</div>
<div class="c r to" style="left:496px;top:1053px;width:59px">5</div>
<div class="c r to" style="left:559px;top:1053px;width:63px">64.775</div>
<div class="c r to" style="left:626px;top:1053px;width:59px">11.820</div>
<div class="a o" style="left:43px;top:1072px;width:645px;height:19px"></div>
<div class="c n" style="left:7px;top:1073px;width:35px">100</div>
<div class="c r to" style="left:43px;top:1073px;width:102px">Oregon</div>
<div class="c r to" style="left:149px;top:1073px;width:162px">Malheur County</div>
<div class="c m to" style="left:315px;top:1073px;width:45px">R</div>
<div class="c r to" style="left:361px;top:1073px;width:68px">30571</div>
<div class="c r to" style="left:433px;top:1073px;width:59px">1977</div>
<div class="c r to" style="left:496px;top:1073px;width:59px">38</div>
<div class="c r to" style="left:559px;top:1073px;width:63px">64.669</div>
<div class="c r to" style="left:626px;top:1073px;width:59px">12.430</div>
<div class="h" style="left:6px;top:9px;width:683px"></div>
<div class="h" style="left:6px;top:49px;width:683px"></div>
<div class="h" style="left:6px;top:91px;width:683px"></div>
<div class="h" style="left:6px;top:111px;width:683px"></div>
<div class="h" style="left:6px;top:131px;width:683px"></div>
<div class="h" style="left:6px;top:151px;width:683px"></div>
<div class="h" style="left:6px;top:171px;width:683px"></div>
<div class="h" style="left:6px;top:191px;width:683px"></div>
<div class="h" style="left:6px;top:211px;width:683px"></div>
<div class="h" style="left:6px;top:231px;width:683px"></div>
<div class="h" style="left:6px;top:251px;width:683px"></div>
<div class="h" style="left:6px;top:271px;width:683px"></div>
<div class="h" style="left:6px;top:291px;width:683px"></div>
<div class="h" style="left:6px;top:311px;width:683px"></div>
<div class="h" style="left:6px;top:331px;width:683px"></div>
<div class="h" style="left:6px;top:351px;width:683px"></div>
<div class="h" style="left:6px;top:371px;width:683px"></div>
<div class="h" style="left:6px;top:391px;width:683px"></div>
<div class="h" style="left:6px;top:411px;width:683px"></div>
<div class="h" style="left:6px;top:431px;width:683px"></div>
<div class="h" style="left:6px;top:451px;width:683px"></div>
<div class="h" style="left:6px;top:471px;width:683px"></div>
<div class="h" style="left:6px;top:491px;width:683px"></div>
<div class="h" style="left:6px;top:511px;width:683px"></div>
<div class="h" style="left:6px;top:531px;width:683px"></div>
<div class="h" style="left:6px;top:551px;width:683px"></div>
<div class="h" style="left:6px;top:571px;width:683px"></div>
<div class="h" style="left:6px;top:591px;width:683px"></div>
<div class="h" style="left:6px;top:611px;width:683px"></div>
<div class="h" style="left:6px;top:631px;width:683px"></div>
<div class="h" style="left:6px;top:651px;width:683px"></div>
<div class="h" style="left:6px;top:671px;width:683px"></div>
<div class="h" style="left:6px;top:691px;width:683px"></div>
<div class="h" style="left:6px;top:711px;width:683px"></div>
<div class="h" style="left:6px;top:731px;width:683px"></div>
<div class="h" style="left:6px;top:751px;width:683px"></div>
<div class="h" style="left:6px;top:771px;width:683px"></div>
<div class="h" style="left:6px;top:791px;width:683px"></div>
<div class="h" style="left:6px;top:811px;width:683px"></div>
<div class="h" style="left:6px;top:831px;width:683px"></div>
<div class="h" style="left:6px;top:851px;width:683px"></div>
<div class="h" style="left:6px;top:871px;width:683px"></div>
<div class="h" style="left:6px;top:891px;width:683px"></div>
<div class="h" style="left:6px;top:911px;width:683px"></div>
<div class="h" style="left:6px;top:931px;width:683px"></div>
<div class="h" style="left:6px;top:951px;width:683px"></div>
<div class="h" style="left:6px;top:971px;width:683px"></div>
<div class="h" style="left:6px;top:991px;width:683px"></div>
<div class="h" style="left:6px;top:1011px;width:683px"></div>
<div class="h" style="left:6px;top:1031px;width:683px"></div>
<div class="h" style="left:6px;top:1051px;width:683px"></div>
<div class="h" style="left:6px;top:1071px;width:683px"></div>
<div class="h" style="left:6px;top:1091px;width:683px"></div>
<div class="v" style="left:6px;top:9px;height:1083px"></div>
<div class="v" style="left:688px;top:9px;height:1083px"></div>
<div class="v" style="left:42px;top:49px;height:1043px"></div>
<div class="v" style="left:148px;top:49px;height:1043px"></div>
<div class="v" style="left:314px;top:49px;height:1043px"></div>
<div class="v" style="left:360px;top:49px;height:1043px"></div>
<div class="v" style="left:432px;top:49px;height:1043px"></div>
<div class="v" style="left:495px;top:49px;height:1043px"></div>
<div class="v" style="left:558px;top:49px;height:1043px"></div>
<div class="v" style="left:625px;top:49px;height:1043px"></div>
<div class="a" style="left:100px;top:251px;width:56px;height:18px;background:#efeff3;box-shadow:0 1px 2px rgba(0,0,0,.3);font-size:11.5px;line-height:18px;color:#262626;padding-left:3.5px;box-sizing:border-box;white-space:nowrap;letter-spacing:0.1px;-webkit-text-stroke:0.2px #262626">Plot Area</div>
</body></html>
